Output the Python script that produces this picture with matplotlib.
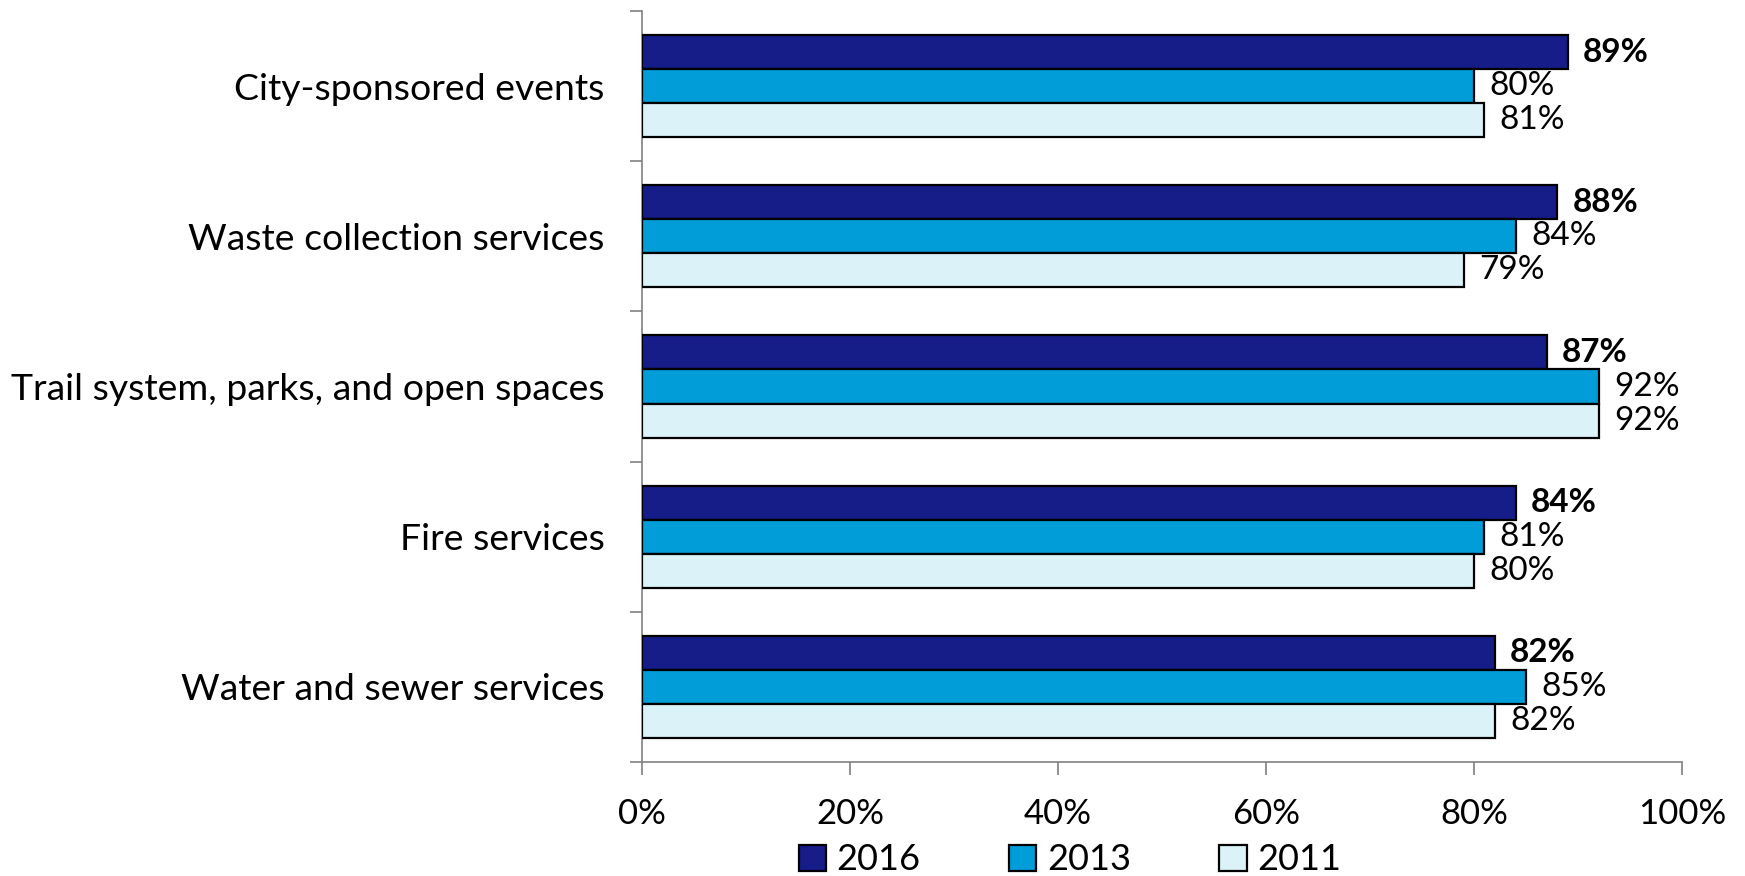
import matplotlib
matplotlib.use("Agg")
import matplotlib.pyplot as plt
import numpy as np

plt.rcParams['font.family'] = ['Lato', 'DejaVu Sans']

categories = [
    "City-sponsored events",
    "Waste collection services",
    "Trail system, parks, and open spaces",
    "Fire services",
    "Water and sewer services",
]
years = ["2016", "2013", "2011"]
values_2016 = [89, 88, 87, 84, 82]
values_2013 = [80, 84, 92, 81, 85]
values_2011 = [81, 79, 92, 80, 82]
series = [values_2016, values_2013, values_2011]
colors = ["#161C88", "#009DD8", "#DBF3F8"]
x_ticks = [0, 20, 40, 60, 80, 100]
x_tick_labels = ["0%", "20%", "40%", "60%", "80%", "100%"]

W, H = 1745, 876
fig = plt.figure(figsize=(W / 100, H / 100), dpi=100)
fig.patch.set_facecolor("white")
ax = fig.add_axes([642 / W, 1 - 762 / H, (1682 - 642) / W, (762 - 11) / H])
ax.set_facecolor("none")

bar_h = 0.227
n = len(categories)
centers = np.arange(n) + 0.5
handles = []
for k, (vals, col, yr) in enumerate(zip(series, colors, years)):
    ys = centers + (k - 1) * bar_h
    b = ax.barh(ys, vals, height=bar_h, color=col, edgecolor="black",
                linewidth=1.6, label=yr, zorder=3)
    handles.append(b)
    for y, v in zip(ys, vals):
        ax.annotate(f"{v}%", xy=(v, y), xytext=(11, 0), textcoords="offset points",
                    ha="left", va="center", fontsize=24,
                    fontweight="bold" if k == 0 else "normal", color="black")

ax.set_xlim(0, 100)
ax.set_ylim(n, 0)
ax.set_xticks(x_ticks)
ax.set_xticklabels(x_tick_labels, fontsize=25)
ax.set_yticks(np.arange(n + 1))
ax.set_yticklabels([])
ax.set_yticks(centers, minor=True)
ax.set_yticklabels(categories, minor=True, fontsize=26.9)
ax.tick_params(axis="y", which="minor", length=0, pad=27)
ax.tick_params(axis="y", which="major", length=9, width=1.2, color="#808080", direction="out")
ax.tick_params(axis="x", which="major", length=9, width=1.2, color="#808080",
               direction="out", pad=17)
for s in ["top", "right"]:
    ax.spines[s].set_visible(False)
for s in ["left", "bottom"]:
    ax.spines[s].set_color("#808080")
    ax.spines[s].set_linewidth(1.2)

leg = fig.legend(handles=handles, labels=years, loc="center", ncol=3,
                 bbox_to_anchor=(1070 / W, 1 - 860 / H), frameon=False,
                 fontsize=26, handlelength=0.75, handleheight=0.75,
                 columnspacing=2.45, handletextpad=0.3, borderaxespad=0)

fig.savefig("out.png", dpi=100, facecolor="white")
